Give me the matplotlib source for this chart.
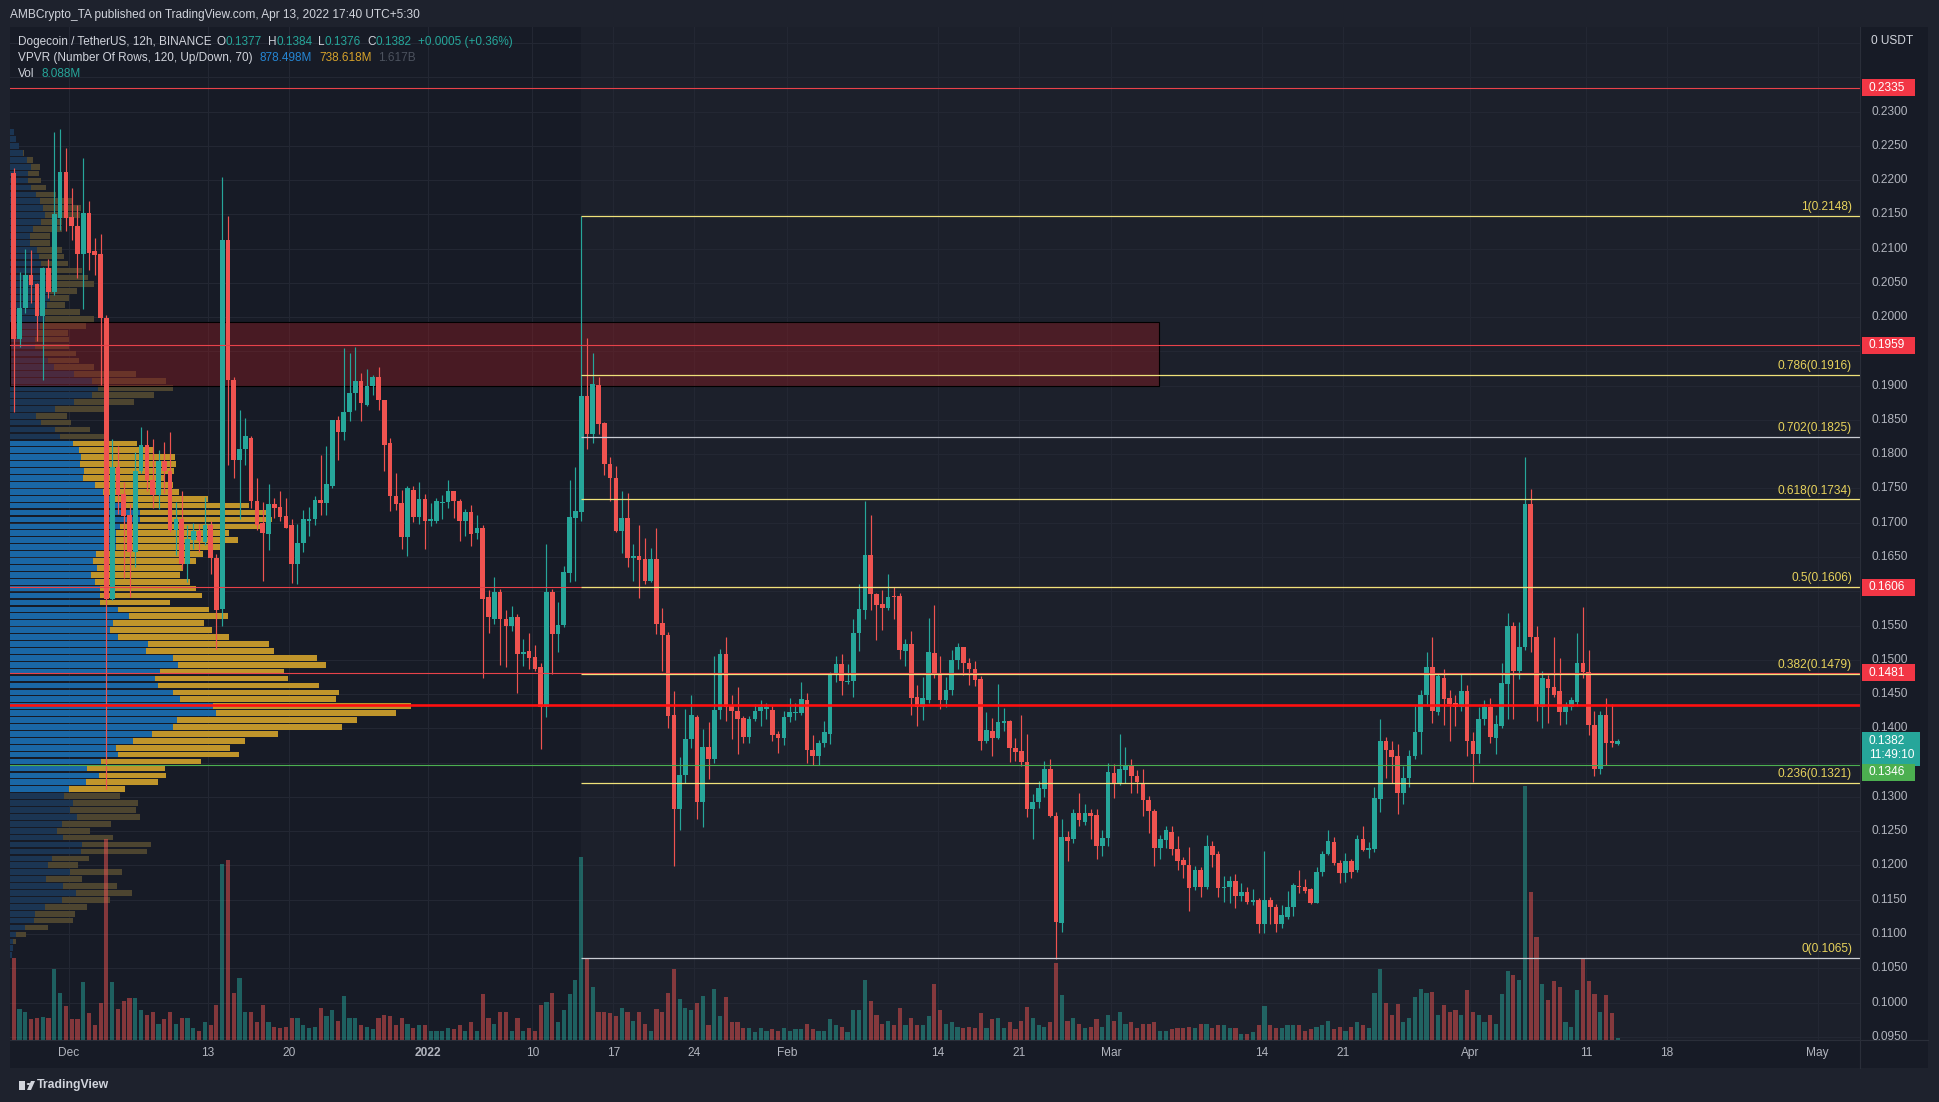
import numpy as np
import pandas as pd
import matplotlib
matplotlib.use("Agg")
import matplotlib.pyplot as plt
import matplotlib.dates as mdates
from matplotlib.transforms import blended_transform_factory as blend
from matplotlib.patches import Rectangle, Circle, Polygon

plt.rcParams['font.family'] = ['Liberation Sans', 'DejaVu Sans']

# ---------------- data ----------------
first_candle = '2021-11-26 05:30'   # 12h candles, local time UTC+5:30

opens = [
    .2210, .1968, .2014, .2062, .2049, .2002, .2071, .2036, .2145, .2212,
    .2146, .2133, .2092, .2152, .2096, .2092, .1998, .1589, .1782, .1742,
    .1711, .1657, .1775, .1813, .1762, .1741, .1790, .1776, .1690, .1705,
    .1640, .1675, .1688, .1672, .1696, .1649, .1574, .2113, .1908, .1792,
    .1807, .1824, .1732, .1700, .1683, .1727, .1723, .1710, .1696, .1640,
    .1670, .1703, .1706, .1733, .1729, .1754, .1850, .1833, .1862, .1889,
    .1907, .1872, .1899, .1912, .1879, .1817, .1739, .1729, .1679, .1748,
    .1709, .1735, .1702, .1702, .1729, .1730, .1746, .1732, .1702, .1715,
    .1685, .1692, .1591, .1560, .1599, .1560, .1549, .1563, .1509, .1513,
    .1504, .1489, .1431, .1599, .1537, .1551, .1627, .1707, .1716, .1885,
    .1830, .1901, .1845, .1786, .1766, .1688, .1707, .1649, .1651, .1647,
    .1615, .1647, .1553, .1536, .1420, .1283, .1332, .1385, .1417, .1292,
    .1373, .1356, .1427, .1509, .1432, .1426, .1415, .1388, .1413, .1425,
    .1428, .1427, .1392, .1386, .1416, .1422, .1422, .1441, .1369, .1359,
    .1379, .1392, .1478, .1494, .1467, .1469, .1539, .1572, .1653, .1596,
    .1582, .1576, .1593, .1593, .1513, .1523, .1446, .1431, .1442, .1510,
    .1480, .1441, .1456, .1500, .1518, .1495, .1487, .1472, .1382, .1396,
    .1386, .1408, .1411, .1372, .1367, .1351, .1282, .1292, .1312, .1341,
    .1272, .1116, .1242, .1238, .1276, .1264, .1276, .1274, .1228, .1240,
    .1335, .1319, .1339, .1347, .1330, .1321, .1296, .1280, .1225, .1237,
    .1249, .1224, .1208, .1201, .1168, .1193, .1169, .1228, .1216, .1167,
    .1168, .1178, .1155, .1161, .1147, .1150, .1114, .1150, .1139, .1114,
    .1125, .1139, .1170, .1169, .1165, .1145, .1191, .1217, .1234, .1204,
    .1189, .1207, .1193, .1239, .1223, .1224, .1297, .1381, .1369, .1359,
    .1306, .1328, .1360, .1395, .1448, .1490, .1424, .1474, .1445, .1437,
    .1431, .1454, .1382, .1362, .1413, .1431, .1386, .1403, .1465, .1549,
    .1484, .1519, .1727, .1533, .1431, .1472, .1461, .1454, .1424, .1431,
    .1439, .1495, .1482, .1405, .1340, .1420, .1381, .1377]

highs = [
    .2217, .2066, .2100, .2098, .2050, .2073, .2085, .2270, .2275, .2247,
    .2188, .2163, .2232, .2169, .2116, .2122, .2003, .1822, .1812, .1760,
    .1727, .1803, .1839, .1836, .1822, .1806, .1818, .1833, .1730, .1747,
    .1696, .1700, .1698, .1738, .1702, .1655, .2204, .2148, .1913, .1864,
    .1853, .1827, .1766, .1730, .1757, .1736, .1746, .1736, .1706, .1698,
    .1718, .1723, .1739, .1799, .1812, .1850, .1856, .1955, .1948, .1957,
    .1918, .1925, .1916, .1927, .1879, .1824, .1773, .1748, .1754, .1754,
    .1759, .1742, .1729, .1736, .1740, .1763, .1747, .1735, .1720, .1726,
    .1711, .1696, .1602, .1621, .1604, .1572, .1578, .1567, .1531, .1539,
    .1522, .1495, .1669, .1604, .1585, .1637, .1762, .1782, .2148, .1970,
    .1948, .1913, .1847, .1796, .1783, .1747, .1743, .1669, .1696, .1678,
    .1663, .1693, .1576, .1540, .1454, .1358, .1428, .1448, .1419, .1399,
    .1410, .1506, .1516, .1534, .1448, .1460, .1418, .1418, .1436, .1441,
    .1437, .1433, .1396, .1425, .1445, .1437, .1467, .1452, .1390, .1383,
    .1411, .1482, .1505, .1508, .1494, .1559, .1611, .1732, .1711, .1597,
    .1602, .1625, .1606, .1598, .1531, .1542, .1463, .1475, .1561, .1580,
    .1506, .1475, .1514, .1525, .1519, .1502, .1499, .1477, .1424, .1415,
    .1465, .1429, .1412, .1386, .1419, .1392, .1304, .1323, .1352, .1356,
    .1278, .1268, .1250, .1283, .1306, .1289, .1283, .1283, .1251, .1349,
    .1348, .1392, .1373, .1356, .1339, .1341, .1302, .1283, .1244, .1257,
    .1258, .1243, .1212, .1227, .1199, .1198, .1245, .1236, .1221, .1184,
    .1185, .1187, .1174, .1168, .1165, .1152, .1221, .1154, .1144, .1142,
    .1163, .1174, .1193, .1180, .1167, .1197, .1221, .1251, .1242, .1208,
    .1218, .1210, .1245, .1257, .1234, .1315, .1413, .1388, .1381, .1377,
    .1345, .1369, .1432, .1456, .1511, .1534, .1479, .1487, .1456, .1449,
    .1479, .1463, .1395, .1431, .1441, .1445, .1420, .1495, .1568, .1555,
    .1555, .1796, .1749, .1549, .1484, .1478, .1534, .1502, .1439, .1446,
    .1539, .1577, .1514, .1426, .1426, .1445, .1435, .1384]

lows = [
    .1861, .1957, .2006, .2020, .1965, .1908, .2028, .2032, .2127, .2126,
    .2112, .2057, .2012, .2069, .2062, .1901, .1311, .1588, .1713, .1619,
    .1591, .1636, .1773, .1746, .1722, .1720, .1744, .1687, .1653, .1632,
    .1613, .1662, .1657, .1668, .1625, .1516, .1550, .1784, .1765, .1705,
    .1784, .1722, .1690, .1615, .1660, .1707, .1703, .1692, .1612, .1610,
    .1657, .1681, .1697, .1711, .1711, .1750, .1792, .1820, .1848, .1865,
    .1849, .1870, .1886, .1865, .1776, .1717, .1718, .1662, .1651, .1701,
    .1698, .1662, .1695, .1700, .1705, .1722, .1707, .1674, .1681, .1666,
    .1677, .1473, .1539, .1552, .1492, .1489, .1542, .1451, .1491, .1486,
    .1484, .1370, .1417, .1480, .1511, .1548, .1614, .1615, .1703, .1807,
    .1816, .1830, .1770, .1732, .1686, .1656, .1636, .1615, .1590, .1610,
    .1613, .1538, .1484, .1401, .1199, .1251, .1321, .1371, .1268, .1256,
    .1326, .1349, .1413, .1411, .1384, .1362, .1379, .1379, .1411, .1403,
    .1413, .1381, .1364, .1375, .1409, .1412, .1419, .1349, .1347, .1347,
    .1373, .1377, .1467, .1448, .1465, .1446, .1513, .1559, .1572, .1529,
    .1543, .1572, .1559, .1501, .1491, .1420, .1403, .1412, .1437, .1473,
    .1428, .1431, .1449, .1486, .1478, .1463, .1462, .1369, .1379, .1360,
    .1384, .1396, .1351, .1352, .1345, .1271, .1238, .1284, .1300, .1270,
    .1064, .1103, .1206, .1232, .1257, .1259, .1238, .1210, .1214, .1229,
    .1298, .1317, .1321, .1306, .1305, .1272, .1248, .1199, .1210, .1225,
    .1215, .1193, .1182, .1133, .1164, .1154, .1165, .1198, .1154, .1146,
    .1145, .1138, .1148, .1144, .1142, .1101, .1101, .1115, .1103, .1109,
    .1122, .1126, .1160, .1160, .1144, .1145, .1185, .1215, .1201, .1175,
    .1176, .1182, .1191, .1221, .1211, .1219, .1278, .1328, .1321, .1275,
    .1289, .1315, .1355, .1362, .1433, .1408, .1420, .1405, .1381, .1404,
    .1426, .1360, .1322, .1349, .1405, .1379, .1362, .1401, .1413, .1413,
    .1472, .1514, .1512, .1411, .1400, .1408, .1446, .1405, .1407, .1427,
    .1433, .1473, .1390, .1330, .1334, .1347, .1373, .1376]

closes = [
    .1968, .2014, .2062, .2047, .2001, .2071, .2036, .2150, .2212, .2145,
    .2133, .2092, .2152, .2094, .2090, .1998, .1589, .1782, .1741, .1710,
    .1657, .1775, .1813, .1762, .1741, .1790, .1775, .1690, .1705, .1640,
    .1676, .1688, .1674, .1696, .1649, .1572, .2113, .1908, .1792, .1807,
    .1827, .1732, .1696, .1685, .1727, .1722, .1709, .1693, .1640, .1670,
    .1705, .1706, .1733, .1729, .1756, .1850, .1833, .1862, .1889, .1907,
    .1874, .1899, .1913, .1879, .1814, .1739, .1728, .1679, .1750, .1709,
    .1734, .1702, .1705, .1732, .1730, .1746, .1732, .1702, .1716, .1683,
    .1692, .1589, .1562, .1599, .1560, .1549, .1562, .1508, .1512, .1503,
    .1486, .1431, .1599, .1537, .1551, .1628, .1709, .1717, .1885, .1830,
    .1903, .1844, .1786, .1765, .1688, .1707, .1649, .1651, .1645, .1615,
    .1647, .1552, .1536, .1418, .1283, .1332, .1385, .1419, .1292, .1373,
    .1356, .1427, .1509, .1431, .1426, .1413, .1388, .1413, .1425, .1431,
    .1431, .1390, .1386, .1416, .1424, .1424, .1443, .1369, .1359, .1379,
    .1394, .1478, .1494, .1469, .1469, .1539, .1574, .1653, .1596, .1580,
    .1576, .1592, .1591, .1514, .1523, .1445, .1431, .1445, .1512, .1478,
    .1441, .1456, .1500, .1518, .1495, .1486, .1471, .1382, .1398, .1386,
    .1410, .1411, .1371, .1365, .1351, .1282, .1293, .1313, .1341, .1272,
    .1118, .1242, .1236, .1276, .1266, .1276, .1272, .1228, .1240, .1336,
    .1319, .1341, .1347, .1330, .1322, .1296, .1279, .1225, .1238, .1251,
    .1224, .1206, .1201, .1167, .1193, .1169, .1228, .1215, .1167, .1169,
    .1178, .1155, .1161, .1146, .1150, .1114, .1150, .1139, .1114, .1127,
    .1139, .1172, .1168, .1163, .1145, .1191, .1217, .1236, .1203, .1189,
    .1207, .1191, .1239, .1223, .1225, .1299, .1381, .1368, .1358, .1306,
    .1328, .1360, .1395, .1448, .1490, .1425, .1476, .1443, .1436, .1431,
    .1454, .1381, .1362, .1413, .1431, .1388, .1407, .1466, .1549, .1484,
    .1519, .1727, .1533, .1433, .1474, .1459, .1449, .1424, .1432, .1442,
    .1495, .1482, .1405, .1341, .1420, .1379, .1378, .1382]

# 12h volume, relative bar heights
volume = [
    140, 53, 48, 35, 38, 40, 38, 121, 80, 58, 36, 36, 99, 46, 26, 63, 343, 99, 53, 66,
    71, 71, 51, 43, 48, 28, 36, 48, 28, 38, 38, 21, 16, 30, 25, 60, 300, 307, 80, 106,
    48, 48, 31, 60, 31, 23, 21, 23, 38, 38, 26, 21, 23, 55, 41, 51, 33, 75, 38, 38,
    26, 23, 18, 38, 43, 41, 26, 38, 28, 20, 26,
    26, 15, 15, 15, 20, 18, 26, 16, 31, 16, 78, 38, 28, 48, 48, 16, 38, 16, 20, 15,
    60, 65, 80, 31, 51, 78, 102, 312, 138, 90, 48, 48, 46, 41, 55, 48, 33, 48, 28, 16,
    53, 48, 80, 121, 70, 55, 51, 63, 75, 26, 87, 41, 73, 31, 31, 21, 21, 13, 21, 15,
    18, 15, 20, 16, 18, 18, 28, 18, 15, 15, 36,
    26, 23, 13, 51, 51, 103, 66, 43, 28, 33, 26, 55, 25, 38, 26, 26, 41, 95, 51, 28,
    31, 23, 20, 23, 20, 46, 21, 36, 38, 21, 31, 18, 33, 56, 38, 25, 23, 31, 131, 76,
    33, 38, 28, 20, 23, 35, 23, 43, 33, 48, 28, 31, 20, 28, 28, 31, 16, 15, 18, 20,
    20, 23, 21, 28, 28, 20, 25, 25, 20, 20,
    11, 11, 13, 25, 58, 26, 20, 20, 26, 26, 26, 16, 18, 23, 26, 33, 18, 23, 16, 23,
    31, 25, 20, 80, 121, 63, 43, 61, 31, 38, 73, 87, 80, 82, 43, 60, 48, 51, 43, 85,
    48, 43, 31, 43, 28, 78, 118, 111, 102, 433, 252, 175, 95, 68, 100, 90, 31, 23, 85, 138,
    100, 78, 48, 76, 46, 3]

# VPVR rows (120, from top), up / down volume
vp_up = [
    12, 18, 27, 40, 50, 63, 54, 54, 63, 78, 90, 99, 105, 93, 69, 60, 60, 81, 87, 93,
    120, 120, 120, 120, 120, 110, 90, 105, 90, 81, 75, 75, 102, 114, 132, 192, 246, 264, 246, 192,
    135, 78, 93, 135, 150, 189, 207, 213, 210, 222, 219, 255, 280, 300, 340, 390, 390, 330, 318, 318,
    318, 258, 249, 261, 243, 255, 270, 270, 270, 324, 357, 309, 300, 324, 414, 408, 489, 504, 450, 435,
    444, 489, 510, 609, 618, 501, 489, 426, 369, 318, 324, 273, 231, 267, 228, 177, 162, 189, 180, 201,
    156, 141, 159, 216, 213, 126, 114, 180, 108, 159, 198, 156, 105, 75, 72, 45, 18, 9, 9, 6]
vp_down = [
    0, 0, 0, 2, 19, 27, 33, 39, 45, 60, 96, 114, 105, 63, 87, 60, 60, 75, 75, 81,
    96, 114, 132, 81, 57, 55, 120, 147, 138, 93, 102, 102, 96, 93, 120, 186, 222, 225, 186, 180,
    147, 93, 90, 105, 147, 192, 222, 282, 288, 270, 243, 234, 227, 294, 377, 392, 396, 423, 339, 366,
    324, 321, 309, 258, 267, 285, 288, 306, 210, 273, 297, 273, 306, 333, 363, 384, 432, 444, 372, 399,
    483, 498, 468, 594, 540, 540, 507, 378, 336, 342, 363, 300, 234, 201, 216, 168, 168, 195, 198, 189,
    147, 99, 150, 207, 198, 111, 90, 156, 108, 162, 168, 144, 126, 120, 117, 69, 30, 9, 0, 0]
value_area_rows = (45, 95)
poc_price = 0.1434

red_levels = [0.2335, 0.1959, 0.1606, 0.1481]
support_level = 0.1346
zone_low, zone_high = 0.1900, 0.1993
zone_end = '2022-03-05 02:00'

fib_start = '2022-01-14 05:30'
fib_ratios = ['1', '0.786', '0.702', '0.618', '0.5', '0.382', '0.236', '0']
fib_prices = [0.2148, 0.1916, 0.1825, 0.1734, 0.1606, 0.1479, 0.1321, 0.1065]

tick_dates = ['2021-12-01', '2021-12-13', '2021-12-20', '2022-01-01', '2022-01-10',
              '2022-01-17', '2022-01-24', '2022-02-01', '2022-02-14', '2022-02-21',
              '2022-03-01', '2022-03-14', '2022-03-21', '2022-04-01', '2022-04-11',
              '2022-04-18', '2022-05-01']
tick_labels = ['Dec', '13', '20', '2022', '10', '17', '24', 'Feb', '14', '21',
               'Mar', '14', '21', 'Apr', '11', '18', 'May']

# ---------------- styling ----------------
W, H = 1940, 1102
BG = '#171b26'
OUTER = '#1e222d'
GRID = '#232733'
UP, DOWN = '#26a69a', '#ef5350'
TXT = '#b2b5be'
YEL = '#f0e27a'

fig = plt.figure(figsize=(W / 100, H / 100), dpi=100)
fig.patch.set_facecolor(OUTER)
fig.add_artist(Rectangle((10 / W, 1 - 1068 / H), 1918 / W, 1041 / H,
                         transform=fig.transFigure, facecolor=BG,
                         edgecolor='none', zorder=-1))

ax = fig.add_axes([10 / W, 1 - 1040 / H, 1850 / W, 1013 / H])
ax.set_facecolor(BG)
ax.autoscale(False)
for s in ax.spines.values():
    s.set_visible(False)
ax.set_xticks([])
ax.set_yticks([])

o = np.array(opens); h = np.array(highs); l = np.array(lows); c = np.array(closes)
times = pd.date_range(first_candle, periods=len(o), freq='12h')
t = mdates.date2num(times.to_pydatetime())
d0 = mdates.date2num(pd.Timestamp('2021-12-01').to_pydatetime())
xmin, xmax = d0 - 5.095, d0 + 154.66
ymin, ymax = 0.09453, 0.24233
ax.set_xlim(xmin, xmax)
ax.set_ylim(ymin, ymax)
px_per_price = 1013 / (ymax - ymin)

t_fib = mdates.date2num(pd.Timestamp(fib_start).to_pydatetime())
t_zone = mdates.date2num(pd.Timestamp(zone_end).to_pydatetime())
tick_x = [mdates.date2num(pd.Timestamp(d).to_pydatetime()) for d in tick_dates]

ax.axvspan(t_fib, xmax, color='#1c202b', lw=0, zorder=0.2)

# grid
for gy in np.arange(0.095, 0.2401, 0.005):
    ax.axhline(gy, color=GRID, lw=0.8, zorder=0.5)
for gx in tick_x:
    ax.axvline(gx, color=GRID, lw=0.8, zorder=0.5)

# volume profile (visible range)
vp_u = np.array(vp_up, float); vp_d = np.array(vp_down, float)
nrows = len(vp_u)
edges = np.linspace(h.max(), l.min(), nrows + 1)
centers = (edges[:-1] + edges[1:]) / 2
row_h = (h.max() - l.min()) / nrows
rows = np.arange(nrows)
in_va = (rows >= value_area_rows[0]) & (rows <= value_area_rows[1])
up_col = np.where(in_va, '#1a67a6', '#1b3553')
dn_col = np.where(in_va, '#c0952b', '#4d4530')
span = 5550.0
tp = blend(ax.transAxes, ax.transData)
ax.barh(centers, vp_u / span, height=row_h * 0.82, left=0, color=up_col,
        transform=tp, zorder=1, linewidth=0)
ax.barh(centers, vp_d / span, height=row_h * 0.82, left=vp_u / span, color=dn_col,
        transform=tp, zorder=1, linewidth=0)

# volume
is_up = c >= o
vcol = [(0.149, 0.651, 0.604, 0.5) if u else (0.937, 0.325, 0.314, 0.5) for u in is_up]
VOL_TOP = 1726.0
ax.bar(t, np.array(volume) / VOL_TOP, width=0.36, bottom=0, color=vcol,
       transform=blend(ax.transData, ax.transAxes), zorder=2, linewidth=0)

# resistance zone
ax.add_patch(Rectangle((xmin, zone_low), t_zone - xmin, zone_high - zone_low,
                       facecolor=(0.6, 0.1, 0.12, 0.38), edgecolor='#000000',
                       lw=0.8, zorder=3))

# candles
ccol = np.where(is_up, UP, DOWN)
ax.vlines(t, l, h, colors=ccol, lw=0.85, zorder=5)
body_lo = np.minimum(o, c)
body_h = np.maximum(np.abs(c - o), 0.00012)
ax.bar(t, body_h, bottom=body_lo, width=0.40, color=ccol, zorder=6, linewidth=0)

# horizontal levels
for lv in red_levels:
    ax.axhline(lv, color='#e8424a', lw=0.8, zorder=7)
ax.axhline(poc_price, color='#ff1010', lw=1.9, zorder=7)
ax.axhline(support_level, color='#4caf50', lw=0.8, zorder=7)

# fib retracement
ty = blend(ax.transAxes, ax.transData)
for r, p in zip(fib_ratios, fib_prices):
    lc = '#c9ccd3' if r in ('0.702', '0') else YEL
    ax.hlines(p, t_fib, xmax, colors=lc, lw=0.9, zorder=7)
    ax.annotate(f'{r}({p:.4f})', xy=(0.9957, p), xycoords=ty, xytext=(0, 6.3),
                textcoords='offset points', ha='right', va='center',
                color='#e8d35c', fontsize=8.6, zorder=8)

# ---------------- right price axis ----------------
fy = blend(fig.transFigure, ax.transData)
highlights = red_levels + [0.1382, support_level]
for p in np.arange(0.095, 0.2351, 0.005):
    if min(abs(p - q) for q in highlights) < 0.0016:
        continue
    fig.text(1872 / W, p, f'{p:.4f}', transform=fy, color=TXT, fontsize=8.6,
             va='center', ha='left')


def price_tag(p, color, lines, shift_px=0, width_px=53):
    hgt = 17 * len(lines) / px_per_price
    pc = p - shift_px / px_per_price
    top = pc + 8.5 / px_per_price
    fig.add_artist(Rectangle((1862 / W, top - hgt), width_px / W, hgt, transform=fy,
                             facecolor=color, edgecolor='none', zorder=5))
    for i, s in enumerate(lines):
        fig.text(1869 / W, pc - i * 14 / px_per_price, s, transform=fy,
                 color='white', fontsize=8.6, va='center', ha='left', zorder=6)


for lv in red_levels:
    price_tag(lv, '#f23645', [f'{lv:.4f}'])
price_tag(0.1382, '#26a69a', ['0.1382', '11:49:10'], width_px=58)
price_tag(support_level, '#4caf50', [f'{support_level:.4f}'], shift_px=7)

fig.text(1871 / W, 1 - 41 / H, '0 USDT', color='#d1d4dc', fontsize=8.6, va='center')
fig.add_artist(plt.Line2D([1860 / W, 1860 / W], [1 - 1068 / H, 1 - 27 / H],
                          transform=fig.transFigure, color='#2a2e39', lw=0.8))
fig.add_artist(plt.Line2D([10 / W, 1928 / W], [1 - 1040 / H, 1 - 1040 / H],
                          transform=fig.transFigure, color='#2a2e39', lw=0.8))

# ---------------- time axis ----------------
tx = blend(ax.transData, fig.transFigure)
for x, s in zip(tick_x, tick_labels):
    fig.text(x, 1 - 1053 / H, s, transform=tx, color=TXT, fontsize=8.6,
             ha='center', va='center',
             fontweight='bold' if s == '2022' else 'normal')

# ---------------- header / legend ----------------
fig.text(10 / W, 1 - 15 / H, 'AMBCrypto_TA published on TradingView.com, Apr 13, 2022 17:40 UTC+5:30',
         color='#d1d4dc', fontsize=8.6, va='center', ha='left')

renderer = fig.canvas.get_renderer()


def rich_line(x_px, y_px, parts, size=8.5):
    x = x_px
    for s, col, gap in parts:
        tt = fig.text(x / W, 1 - y_px / H, s, color=col, fontsize=size, va='center', ha='left')
        x += tt.get_window_extent(renderer=renderer).width + gap


LG = '#d1d4dc'
rich_line(18, 42, [('Dogecoin / TetherUS, 12h, BINANCE', LG, 5), ('O', LG, 0), ('0.1377', UP, 6),
                   ('H', LG, 0), ('0.1384', UP, 6), ('L', LG, 0), ('0.1376', UP, 6),
                   ('C', LG, 0), ('0.1382', UP, 6), ('+0.0005 (+0.36%)', UP, 0)])
rich_line(18, 58, [('VPVR (Number Of Rows, 120, Up/Down, 70)', LG, 7), ('878.498M', '#2586d4', 7),
                   ('738.618M', '#d6a22a', 7), ('1.617B', '#4c525e', 0)])
rich_line(18, 74, [('Vol', LG, 7), ('8.088M', UP, 0)])

# ---------------- footer ----------------
fig.add_artist(Rectangle((19 / W, 1 - 1090 / H), 6 / W, 9 / H, transform=fig.transFigure,
                         facecolor='#d1d4dc', edgecolor='none'))
fig.add_artist(Circle((28.5 / W, 1 - 1084 / H), 1.8 / W, transform=fig.transFigure,
                      facecolor='#d1d4dc', edgecolor='none'))
fig.add_artist(Polygon([(27 / W, 1 - 1090 / H), (31 / W, 1 - 1081 / H), (35 / W, 1 - 1081 / H),
                        (31 / W, 1 - 1090 / H)], closed=True, transform=fig.transFigure,
                       facecolor='#d1d4dc', edgecolor='none'))
fig.text(37 / W, 1 - 1085 / H, 'TradingView', color='#d1d4dc', fontsize=8.8,
         fontweight='bold', va='center', ha='left')

fig.savefig('out.png', dpi=100, facecolor=fig.get_facecolor())
